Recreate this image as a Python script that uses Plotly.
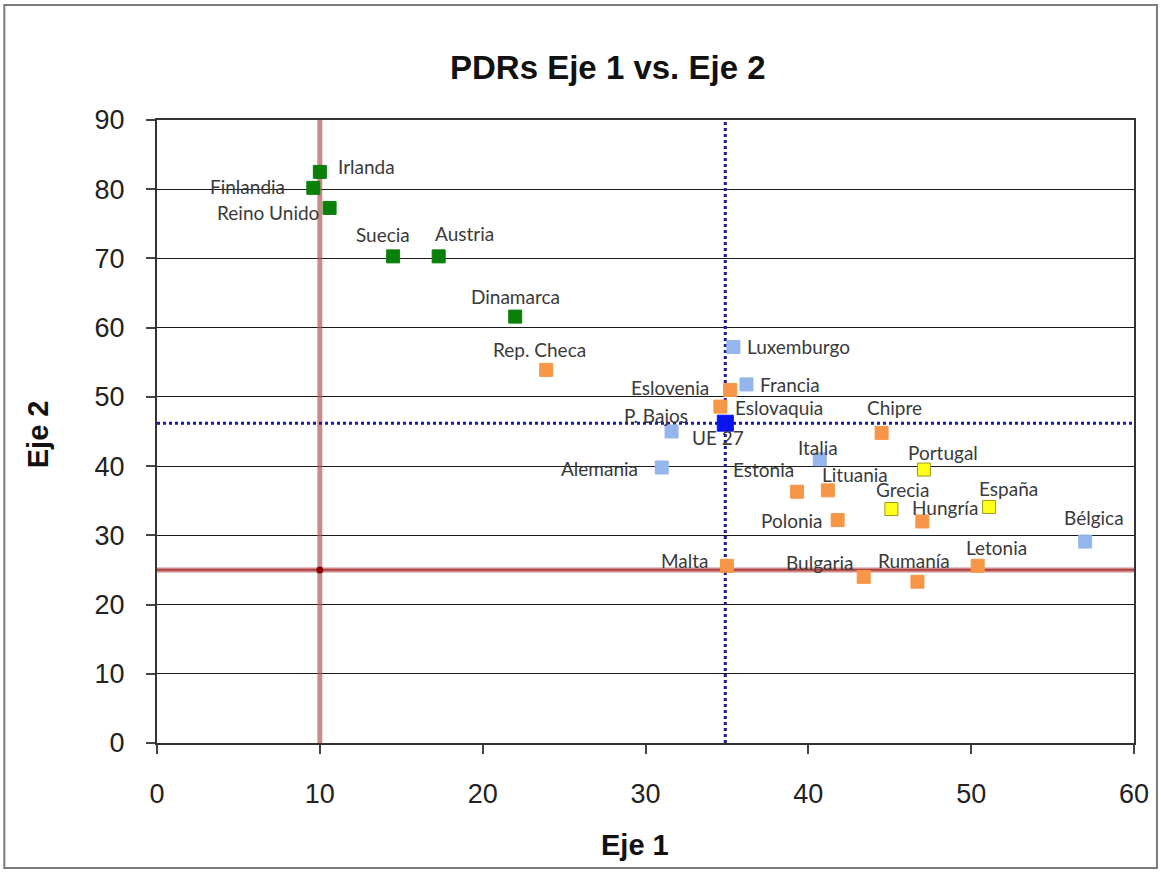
import plotly.graph_objects as go

# ---------------- data ----------------
paises = ["Irlanda", "Finlandia", "Reino Unido", "Suecia", "Austria", "Dinamarca",
          "Rep. Checa", "Luxemburgo", "Francia", "Eslovenia", "Eslovaquia", "UE 27",
          "P. Bajos", "Alemania", "Italia", "Chipre", "Portugal", "Estonia", "Lituania",
          "Grecia", "Hungría", "España", "Polonia", "Bélgica", "Malta", "Bulgaria",
          "Rumanía", "Letonia"]
eje1 = [10.0, 9.6, 10.6, 14.5, 17.3, 22.0,
        23.9, 35.4, 36.2, 35.2, 34.6, 34.9,
        31.6, 31.0, 40.7, 44.5, 47.1, 39.3, 41.2,
        45.1, 47.0, 51.1, 41.8, 57.0, 35.0, 43.4,
        46.7, 50.4]
eje2 = [82.5, 80.2, 77.3, 70.3, 70.3, 61.6,
        53.9, 57.2, 51.8, 51.0, 48.6, 46.2,
        45.0, 39.8, 41.0, 44.8, 39.5, 36.3, 36.5,
        33.8, 32.0, 34.1, 32.2, 29.1, 25.6, 24.0,
        23.3, 25.6]
grupo = ["g", "g", "g", "g", "g", "g",
         "o", "b", "b", "o", "o", "ue",
         "b", "b", "b", "o", "y", "o", "o",
         "y", "o", "y", "o", "b", "o", "o",
         "o", "o"]

umbral_eje1 = 10
umbral_eje2 = 25
media_eje1 = 34.9
media_eje2 = 46.2
x_rango = [0, 60]
y_rango = [0, 90]
x_ticks = [0, 10, 20, 30, 40, 50, 60]
y_ticks = [0, 10, 20, 30, 40, 50, 60, 70, 80, 90]

# ---------------- styles ----------------
colores = {"g": "#0A7F0A", "o": "#F79646", "b": "#95B6EC", "y": "#FFFF1A", "ue": "#0A14F0"}
bordes = {"g": "#0A7F0A", "o": "#F79646", "b": "#95B6EC", "y": "#9A9A20", "ue": "#0A14F0"}
tam = {"g": 13, "o": 13, "b": 13, "y": 13, "ue": 16}

# label pixel offsets (dx right, dy down) relative to the marker
offs = {"Irlanda": (47, -5), "Finlandia": (-66, -1), "Reino Unido": (-62, 5),
        "Suecia": (-10, -22), "Austria": (26, -23), "Dinamarca": (0, -20),
        "Rep. Checa": (-7, -20), "Luxemburgo": (65, -1), "Francia": (44, 0),
        "Eslovenia": (-60, -2), "Eslovaquia": (59, 1), "UE 27": (-7, 14),
        "P. Bajos": (-16, -16), "Alemania": (-62, 1), "Italia": (-2, -12),
        "Chipre": (13, -25), "Portugal": (19, -17), "Estonia": (-33, -22),
        "Lituania": (27, -16), "Grecia": (11, -20), "Hungría": (23, -14),
        "España": (19, -18), "Polonia": (-46, 0), "Bélgica": (9, -24),
        "Malta": (-42, -5), "Bulgaria": (-44, -14), "Rumanía": (-3, -21),
        "Letonia": (19, -18)}

fig = go.Figure()

# threshold lines (red)
fig.add_trace(go.Scatter(x=[umbral_eje1, umbral_eje1], y=y_rango, mode="lines",
                         line=dict(color="rgba(180,90,90,0.7)", width=5),
                         hoverinfo="skip", showlegend=False))
fig.add_trace(go.Scatter(x=x_rango, y=[umbral_eje2, umbral_eje2], mode="lines",
                         line=dict(color="rgba(180,90,90,0.7)", width=5),
                         hoverinfo="skip", showlegend=False))
fig.add_trace(go.Scatter(x=x_rango, y=[umbral_eje2, umbral_eje2], mode="lines",
                         line=dict(color="#B02020", width=1.2),
                         hoverinfo="skip", showlegend=False))
fig.add_trace(go.Scatter(x=[umbral_eje1], y=[umbral_eje2], mode="markers",
                         marker=dict(color="#8B0000", size=7),
                         hoverinfo="skip", showlegend=False))
# mean lines (blue dotted)
fig.add_trace(go.Scatter(x=[media_eje1, media_eje1], y=y_rango, mode="lines",
                         line=dict(color="#1A1A9A", width=3, dash="dot"),
                         hoverinfo="skip", showlegend=False))
fig.add_trace(go.Scatter(x=x_rango, y=[media_eje2, media_eje2], mode="lines",
                         line=dict(color="#1A1A9A", width=3, dash="dot"),
                         hoverinfo="skip", showlegend=False))

for g in ["g", "o", "b", "y", "ue"]:
    idx = [i for i, gg in enumerate(grupo) if gg == g]
    fig.add_trace(go.Scatter(
        x=[eje1[i] for i in idx], y=[eje2[i] for i in idx],
        text=[paises[i] for i in idx], mode="markers",
        marker=dict(symbol="square", size=tam[g], color=colores[g],
                    line=dict(color=bordes[g], width=1)),
        showlegend=False, hovertemplate="%{text}: (%{x}, %{y})<extra></extra>"))

annotations = []
for p, xv, yv in zip(paises, eje1, eje2):
    dx, dy = offs[p]
    annotations.append(dict(x=xv, y=yv, xref="x", yref="y", text=p, showarrow=False,
                            xanchor="center", yanchor="middle",
                            xshift=dx, yshift=-dy,
                            font=dict(family="Lato", size=19, color="#3A3A3A")))

L, R, T, B = 157, 25, 120, 129
W, H = 1161, 872
pw, ph = W - L - R, H - T - B

def px(xp):
    return (xp - L) / pw

def py(yp):
    return (H - B - yp) / ph

annotations += [
    dict(x=px(609), y=py(67), xref="paper", yref="paper", text="<b>PDRs Eje 1 vs. Eje 2</b>",
         xanchor="center", yanchor="middle",
         showarrow=False, font=dict(family="Liberation Sans", size=33, color="#111")),
    dict(x=px(636), y=py(845), xref="paper", yref="paper", text="<b>Eje 1</b>",
         xanchor="center", yanchor="middle",
         showarrow=False, font=dict(family="Liberation Sans", size=29, color="#111")),
    dict(x=px(38), y=py(434), xref="paper", yref="paper", text="<b>Eje 2</b>", textangle=-90,
         xanchor="center", yanchor="middle",
         showarrow=False, font=dict(family="Liberation Sans", size=29, color="#111")),
]

fig.update_layout(
    width=W, height=H, margin=dict(l=L, r=R, t=T, b=B),
    paper_bgcolor="white", plot_bgcolor="white",
    annotations=annotations,
    shapes=[dict(type="rect", xref="paper", yref="paper",
                 x0=px(4), x1=px(1159), y0=py(868), y1=py(5),
                 line=dict(color="#7A7A7A", width=2), layer="below")],
    xaxis=dict(range=x_rango, tickvals=x_ticks, showgrid=False, zeroline=False,
               showline=True, linecolor="#333", linewidth=2, mirror=True,
               ticks="outside", ticklen=9, tickwidth=2, tickcolor="#444",
               ticklabelstandoff=17,
               tickfont=dict(family="Liberation Sans", size=27, color="#222")),
    yaxis=dict(range=y_rango, tickvals=y_ticks, showgrid=True, gridcolor="#1A1A1A",
               gridwidth=1.2, zeroline=False,
               showline=True, linecolor="#333", linewidth=2, mirror=True,
               ticks="outside", ticklen=9, tickwidth=2, tickcolor="#444",
               ticklabelstandoff=16,
               tickfont=dict(family="Liberation Sans", size=27, color="#222")),
)

fig.write_html("out.html")
